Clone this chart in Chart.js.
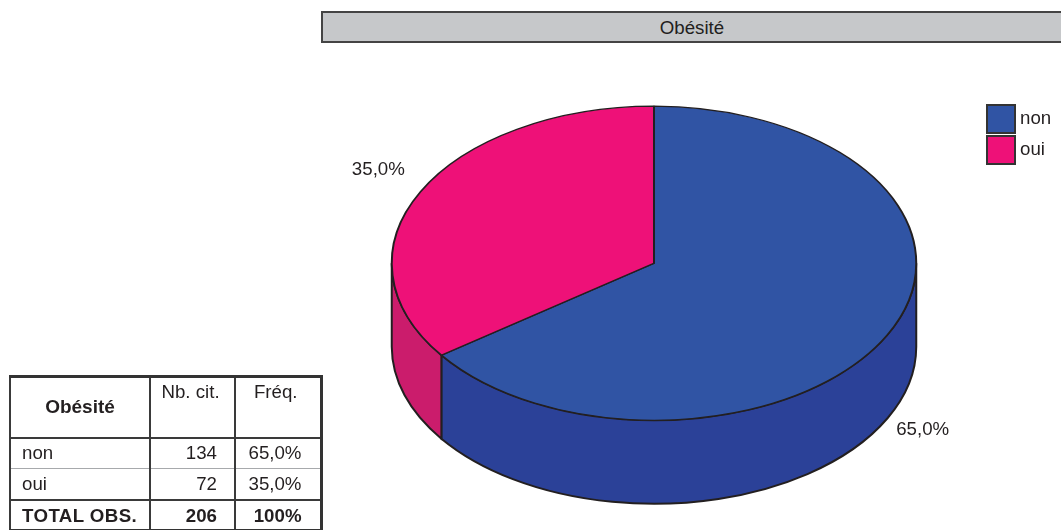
<!DOCTYPE html>
<html lang="fr">
<head>
<meta charset="utf-8">
<title>Obésité</title>
<script src="https://cdn.jsdelivr.net/npm/chart.js@4"></script>
<style>
  html, body { margin: 0; padding: 0; background: #fff; }
  body { position: relative; width: 1061px; height: 530px; overflow: hidden;
         font-family: "Liberation Sans", Arial, sans-serif; font-size: 18.7px; color: #231f20; }
  canvas { position: absolute; left: 0; top: 0; }
  #title { position: absolute; left: 321px; top: 11px; width: 740px; height: 32px; box-sizing: border-box;
           background: #c6c8ca; border: 2px solid #444; border-right: 0;
           text-align: center; line-height: 30px; }
  #legend { position: absolute; left: 986px; top: 104px; }
  #legend div { position: relative; height: 31px; }
  #legend i { position: absolute; left: 0; top: 0; width: 26px; height: 26px; border: 2px solid #333; }
  #legend span { position: absolute; left: 34px; top: 1px; line-height: 26px; }
  #stats { position: absolute; left: 9px; top: 375px; border-collapse: collapse; table-layout: fixed; width: 311px;
           border: 3px solid #333; border-left-width: 2px; }
  #stats th, #stats td { padding: 0; border: 2px solid #3a3a3a; line-height: 22px; font-weight: normal; }
  #stats th + th, #stats td + td { border-left-color: #555; }
  #stats .head { height: 61px; }
  #stats .head th { vertical-align: top; padding-top: 3px; text-align: center; }
  #stats .head th:nth-child(2) { padding-right: 4px; }
  #stats .head th:nth-child(3) { padding-right: 4px; }
  #stats .head th:first-child { font-weight: bold; font-size: 19px; vertical-align: middle; padding-top: 0; }
  #stats tbody tr { height: 31px; }
  #stats td:first-child { padding-left: 11px; }
  #stats td.num { text-align: right; padding-right: 17px; }
  #stats td.pct { text-align: right; padding-right: 18px; }
  #stats tr.first td { border-bottom: 1px solid #a7a9ac; }
  #stats tr.second td { border-top: 1px solid #a7a9ac; }
  #stats tr.total td { font-weight: bold; padding-top: 2px; }
  #stats tr.total td:first-child { letter-spacing: .4px; white-space: nowrap; }
</style>
</head>
<body>
<canvas id="pie" width="1061" height="530"></canvas>
<div id="title"></div>
<div id="legend"></div>
<table id="stats"></table>

<script>
// --- DATA ---
const chartTitle = 'Obésité';
const categories = ['non', 'oui'];
const counts = [134, 72];
const freqLabels = ['65,0%', '35,0%'];
const tableHeaders = ['Nb. cit.', 'Fréq.'];
const totalRow = ['TOTAL OBS.', '206', '100%'];

// --- STYLE ---
const topColors = ['#3054a4', '#ee1178'];
const sideColors = ['#2b4198', '#cb1c6c'];
const outline = '#231f20';
const squash = 157.5 / 263; // ellipse height / width
const depth = 83.5;         // thickness of the pie

// --- 3D PIE: squash the arcs and draw the wall underneath ---
const pie3d = {
    id: 'pie3d',
    beforeDatasetsDraw(chart) {
        const ctx = chart.ctx;
        chart.getDatasetMeta(0).data.forEach((arc, i) => {
            const a0 = Math.max(arc.startAngle, 0);
            const a1 = Math.min(arc.endAngle, Math.PI);
            if (a1 <= a0) return;
            const r = arc.outerRadius, ry = r * squash;
            ctx.beginPath();
            ctx.ellipse(arc.x, arc.y, r, ry, 0, a0, a1);
            ctx.ellipse(arc.x, arc.y + depth, r, ry, 0, a1, a0, true);
            ctx.closePath();
            ctx.fillStyle = sideColors[i];
            ctx.fill();
            ctx.lineWidth = 2;
            ctx.strokeStyle = outline;
            ctx.stroke();
        });
        const first = chart.getDatasetMeta(0).data[0];
        ctx.save();
        ctx.translate(first.x, first.y);
        ctx.scale(1, squash);
        ctx.translate(-first.x, -first.y);
    },
    afterDatasetsDraw(chart) {
        chart.ctx.restore();
        drawLabels(chart);
    }
};

function drawLabels(chart) {
    const ctx = chart.ctx;
    ctx.font = '18.7px "Liberation Sans", Arial, sans-serif';
    ctx.fillStyle = outline;
    ctx.textBaseline = 'middle';
    chart.getDatasetMeta(0).data.forEach((arc, i) => {
        const mid = (arc.startAngle + arc.endAngle) / 2;
        const r = arc.outerRadius + 12;
        const lower = Math.sin(mid) > 0;
        const x = arc.x + r * Math.cos(mid) + (lower ? -2 : -5);
        const y = arc.y + r * squash * Math.sin(mid) + (lower ? depth + 8 : -18.5);
        ctx.textAlign = Math.cos(mid) > 0 ? 'left' : 'right';
        ctx.fillText(freqLabels[i], x, y);
    });
}

new Chart(document.getElementById('pie'), {
    type: 'pie',
    data: {
        labels: categories,
        datasets: [{
            data: counts,
            backgroundColor: topColors,
            borderColor: outline,
            borderWidth: 2,
            borderAlign: 'center',
            hoverOffset: 0
        }]
    },
    options: {
        responsive: false,
        animation: false,
        events: [],
        layout: { padding: { left: 390, right: 143, top: -1.5, bottom: 3.5 } },
        plugins: { legend: { display: false }, tooltip: { enabled: false }, title: { display: false } }
    },
    plugins: [pie3d]
});

// --- TITLE, LEGEND, TABLE ---
document.getElementById('title').textContent = chartTitle;

document.getElementById('legend').innerHTML = categories.map((c, i) =>
    `<div><i style="background:${topColors[i]}"></i><span>${c}</span></div>`).join('');

document.getElementById('stats').innerHTML = `
    <colgroup><col style="width:140px"><col style="width:85px"><col style="width:86px"></colgroup>
    <thead><tr class="head"><th>${chartTitle}</th><th>${tableHeaders[0]}</th><th>${tableHeaders[1]}</th></tr></thead>
    <tbody>
    ${categories.map((c, i) => `<tr class="${i === 0 ? 'first' : 'second'}"><td>${c}</td><td class="num">${counts[i]}</td><td class="pct">${freqLabels[i]}</td></tr>`).join('')}
    <tr class="total"><td>${totalRow[0]}</td><td class="num">${totalRow[1]}</td><td class="pct">${totalRow[2]}</td></tr>
    </tbody>`;
</script>
</body>
</html>
